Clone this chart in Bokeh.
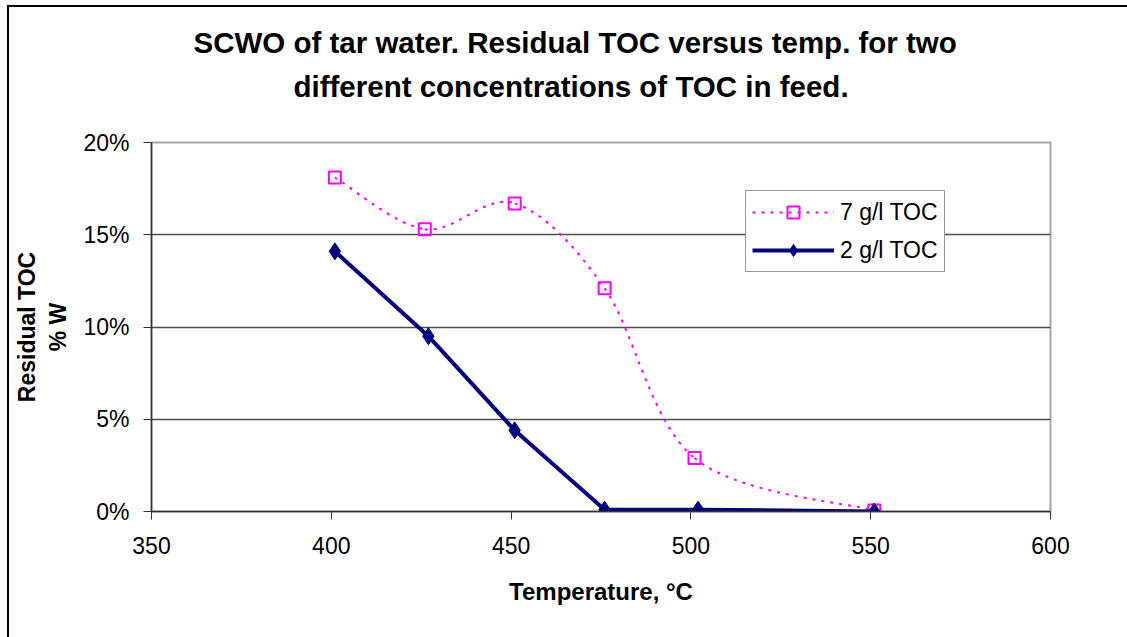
import numpy as np
from bokeh.plotting import figure
from bokeh.models import (Range1d, FixedTicker, NumeralTickFormatter, Legend, LegendItem,
                          Title, ColumnDataSource)
from bokeh.embed import file_html
from bokeh.resources import INLINE

# data
temp_7 = [401, 426, 451, 476, 501, 551]
toc_7 = [0.181, 0.153, 0.167, 0.121, 0.029, 0.0005]
temp_2 = [401, 427, 451, 476, 502, 551]
toc_2 = [0.141, 0.095, 0.044, 0.001, 0.001, 0.0]
x_ticks = [350, 400, 450, 500, 550, 600]
y_ticks = [0.0, 0.05, 0.10, 0.15, 0.20]
title_lines = ["SCWO of tar water. Residual TOC versus temp. for two",
               "different concentrations of TOC in feed."]

FONT = "Liberation Sans"

# canvas starts at (9, 7): 7/5 px margin + 2 px chart border; chart area runs past the window
p = figure(width=1128, height=640, output_backend="svg", toolbar_location=None,
           x_range=Range1d(350, 600), y_range=Range1d(0, 0.2),
           min_border_left=142, min_border_right=87,
           min_border_top=135, min_border_bottom=136)
p.margin = (5, 0, 0, 7)
p.styles = {"border-style": "solid none none solid", "border-width": "2px 0px 0px 2px",
            "border-color": "black"}
p.background_fill_color = "white"
p.border_fill_color = "white"
p.outline_line_color = "#a6a6a6"
p.outline_line_width = 2

# axes
p.xaxis.ticker = FixedTicker(ticks=x_ticks)
p.yaxis.ticker = FixedTicker(ticks=y_ticks)
p.yaxis.formatter = NumeralTickFormatter(format="0%")
for ax in (p.xaxis, p.yaxis):
    ax.major_label_text_font = FONT
    ax.major_label_text_font_size = "23px"
    ax.major_label_text_color = "black"
    ax.major_tick_in = 0
    ax.major_tick_out = 8
    ax.minor_tick_line_color = None
    ax.major_tick_line_color = "#333333"
    ax.axis_line_color = "#333333"
    ax.axis_line_width = 1.5
    ax.axis_label_text_font = FONT
    ax.axis_label_text_font_style = "bold"
    ax.axis_label_text_color = "black"
p.xaxis.major_label_standoff = 17
p.yaxis.major_label_standoff = 14
p.xaxis.axis_label = "Temperature, \u00b0C"
p.xaxis.axis_label_text_font_size = "24px"
p.xaxis.axis_label_standoff = 21
p.yaxis.axis_label = "Residual TOC\n% W"
p.yaxis.axis_label_text_font_size = "23px"
p.yaxis.axis_label_text_line_height = 1.22
p.yaxis.axis_label_standoff = 9

p.xgrid.grid_line_color = None
p.ygrid.grid_line_color = "#4d4d4d"
p.ygrid.grid_line_width = 1.5

# smoothed curve for 7 g/l (Catmull-Rom -> cubic Bezier through the data points)
x7 = np.array(temp_7, dtype=float)
y7 = np.array(toc_7, dtype=float)
xp = np.concatenate([[x7[0]], x7, [x7[-1]]])
yp = np.concatenate([[y7[0]], y7, [y7[-1]]])
n = len(x7) - 1
bz = dict(x0=x7[:-1], y0=y7[:-1], x1=x7[1:], y1=y7[1:],
          cx0=x7[:-1] + (xp[2:n + 2] - xp[0:n]) / 6.0,
          cy0=y7[:-1] + (yp[2:n + 2] - yp[0:n]) / 6.0,
          cx1=x7[1:] - (xp[3:n + 3] - xp[1:n + 1]) / 6.0,
          cy1=y7[1:] - (yp[3:n + 3] - yp[1:n + 1]) / 6.0)
r7l = p.bezier(x0="x0", y0="y0", x1="x1", y1="y1", cx0="cx0", cy0="cy0", cx1="cx1", cy1="cy1",
               source=ColumnDataSource(bz), line_color="#FF00FF", line_width=2, line_dash="3 6")
r7m = p.scatter(temp_7, toc_7, marker="square", size=12, line_color="#FF00FF", line_width=2,
                fill_alpha=0)

r2l = p.line(temp_2, toc_2, line_color="#000080", line_width=4)
r2m = p.scatter(temp_2, toc_2, marker="diamond", size=17, line_color="#000080",
                fill_color="#000080")

legend = Legend(items=[LegendItem(label="7 g/l TOC", renderers=[r7l, r7m]),
                       LegendItem(label="2 g/l TOC", renderers=[r2l, r2m])],
                location=(594, 239))
legend.label_text_font = FONT
legend.label_text_font_size = "23px"
legend.label_text_color = "black"
legend.glyph_width = 82
legend.glyph_height = 30
legend.label_height = 30
legend.label_standoff = 6
legend.spacing = 8
legend.padding = 6
legend.margin = 0
legend.border_line_color = "#333333"
legend.border_line_width = 1.5
legend.background_fill_alpha = 1
p.add_layout(legend)

# title: two centred lines (second line nearest the plot)
p.title = None
p.add_layout(Title(text=title_lines[1], align="left", offset=142, standoff=79,
                   text_font=FONT, text_font_style="bold", text_font_size="29.5px",
                   text_color="black"), "above")
p.add_layout(Title(text=title_lines[0], align="left", offset=42, standoff=-61,
                   text_font=FONT, text_font_style="bold", text_font_size="29.5px",
                   text_color="black"), "above")

open("out.html", "w").write(file_html(p, INLINE))
